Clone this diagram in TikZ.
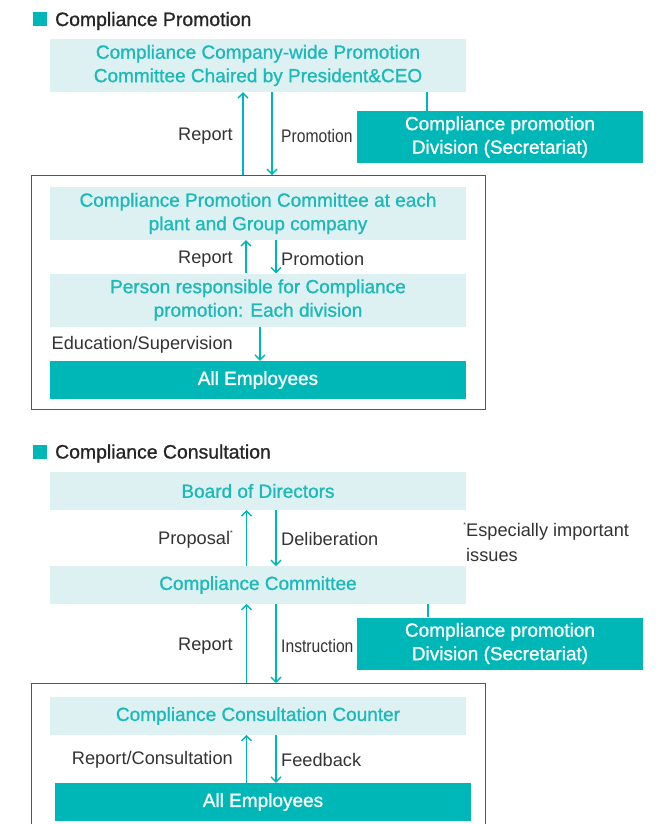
\documentclass[tikz,border=0pt]{standalone}
\usepackage{fontspec}
\setmainfont{Liberation Sans}
\newfontfamily\medfont[FakeBold=1]{Liberation Sans}
\usepackage{graphicx}
\usetikzlibrary{arrows.meta,positioning}
\definecolor{cmteal}{HTML}{00B7B8}
\definecolor{cmlight}{HTML}{DDF0F2}
\definecolor{cmtext}{HTML}{1CB9B9}
\definecolor{cmgray}{HTML}{333333}
\definecolor{cmframe}{HTML}{555555}
\newcommand{\smallstar}{{\fontsize{7}{7}\selectfont\raisebox{9pt}{*}}}

\begin{document}
\begin{tikzpicture}[
    x=1pt, y=-1pt,
    box/.style={
        inner sep=0pt,
        align=center,
        minimum width=416pt,
        font=\medfont\fontsize{19}{23.5}\selectfont
    },
    lightbox/.style={
        box,
        fill=cmlight,
        text=cmtext
    },
    tealbox/.style={
        box,
        fill=cmteal,
        text=white
    },
    secbox/.style={
        tealbox,
        minimum width=286pt
    },
    framebox/.style={
        draw=cmframe,
        line width=0.9pt,
        minimum width=454pt,
        inner sep=0pt
    },
    lbl/.style={inner sep=0pt, text=cmgray, font=\fontsize{18.2}{24.7}\selectfont},
    heading/.style={inner sep=0pt, anchor=west, text=black!85, font=\medfont\fontsize{19.4}{22}\selectfont},
    headmark/.style={fill=cmteal, minimum size=14pt, inner sep=0pt},
    arrow/.style={-{Straight Barb[length=5pt,width=10pt]}, cmteal, line width=1.3pt},
    link/.style={cmteal, line width=1.3pt}
]
\clip (0,0) rectangle (659,824);

% Compliance Promotion
\node[headmark] (markA) at (40,19) {};
\node[heading] (headA) at (55,21) {Compliance Promotion};

\node[lightbox, minimum height=53pt] (cwide) at (258,65.5) {Compliance Company-wide Promotion\\Committee Chaired by President\&CEO};
\node[secbox, minimum height=52pt] (secA) at (500,137) {Compliance promotion\\Division (Secretariat)};
\node[framebox, minimum height=234pt] (frameA) at (258,292.5) {};
\node[lightbox, minimum height=53pt] (plant) at (258,213.5) {Compliance Promotion Committee at each\\plant and Group company};
\node[lightbox, minimum height=53pt] (person) at (258,300) {Person responsible for Compliance\\promotion: Each division};
\node[tealbox, minimum height=38pt] (allA) at (258,380) {All Employees};

\node[lbl, anchor=east] (repA) at (233,136) {Report};
\node[lbl, anchor=west] (promA) at (281,136) {\scalebox{0.86}[1]{Promotion}};
\node[lbl, anchor=east] (repB) at (233,259) {Report};
\node[lbl, anchor=west] (promB) at (281,259) {Promotion};
\node[lbl, anchor=east] (edu) at (233,345) {Education/Supervision};

\draw[arrow] ([xshift=-15pt]frameA.north) -- ([xshift=-15pt]cwide.south);
\draw[arrow] ([xshift=14pt]cwide.south) -- ([xshift=14pt]frameA.north);
\draw[link] ([xshift=169pt]cwide.south) -- ([xshift=169pt]cwide.south |- secA.north);
\draw[arrow] ([xshift=-12pt]person.north) -- ([xshift=-12pt]plant.south);
\draw[arrow] ([xshift=18pt]plant.south) -- ([xshift=18pt]person.north);
\draw[arrow] ([xshift=2pt]person.south) -- ([xshift=2pt]allA.north);

% Compliance Consultation
\node[headmark] (markB) at (40,451.5) {};
\node[heading] (headB) at (55,453.5) {Compliance Consultation};

\node[lightbox, minimum height=38pt] (board) at (258,491) {Board of Directors};
\node[lightbox, minimum height=37.5pt] (committee) at (258,585) {Compliance Committee};
\node[secbox, minimum height=52pt] (secB) at (500,643.5) {Compliance promotion\\Division (Secretariat)};
\node[framebox, minimum height=200pt] (frameB) at (258,783.5) {};
\node[lightbox, minimum height=37.5pt] (counter) at (258,716) {Compliance Consultation Counter};
\node[tealbox, minimum height=38pt] (allB) at (263,802) {All Employees};

\node[lbl, anchor=east] (prop) at (233,539) {Proposal\smallstar};
\node[lbl, anchor=west] (delib) at (281,539) {Deliberation};
\node[lbl, anchor=west, align=left] (note) at (466,542) {\llap{\smallstar}Especially important\\issues};
\node[lbl, anchor=east] (repC) at (233,646) {Report};
\node[lbl, anchor=west] (instr) at (281,646) {\scalebox{0.86}[1]{Instruction}};
\node[lbl, anchor=east] (repcons) at (233,760) {Report/Consultation};
\node[lbl, anchor=west] (feed) at (281,760) {Feedback};

\draw[arrow] ([xshift=-11.5pt]committee.north) -- ([xshift=-11.5pt]board.south);
\draw[arrow] ([xshift=18pt]board.south) -- ([xshift=18pt]committee.north);
\draw[link] ([xshift=170pt]committee.south) -- ([xshift=170pt]committee.south |- secB.north);
\draw[arrow] ([xshift=-11.5pt]frameB.north) -- ([xshift=-11.5pt]committee.south);
\draw[arrow] ([xshift=18pt]committee.south) -- ([xshift=18pt]frameB.north);
\draw[arrow] ([xshift=-11.5pt]allB.north -| counter.south) -- ([xshift=-11.5pt]counter.south);
\draw[arrow] ([xshift=18pt]counter.south) -- ([xshift=18pt]allB.north -| counter.south);
\end{tikzpicture}
\end{document}
